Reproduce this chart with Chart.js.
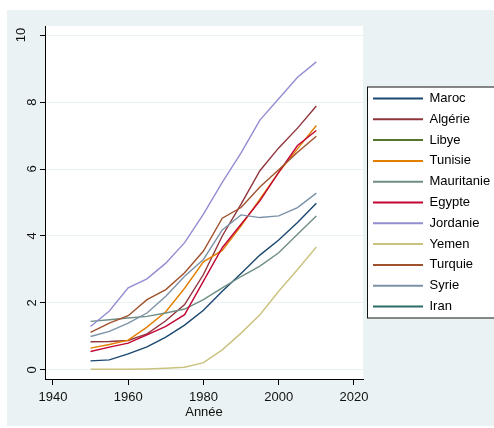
<!DOCTYPE html>
<html lang="fr">
<head>
<meta charset="UTF-8">
<title>Année</title>
<script src="https://cdn.jsdelivr.net/npm/chart.js"></script>
<style>
  html, body { margin: 0; padding: 0; background: #fff; }
  #wrap { width: 494px; height: 428px; }
</style>
</head>
<body>
<div id="wrap"><canvas id="chart"></canvas></div>
<script>
const years = [1950, 1955, 1960, 1965, 1970, 1975, 1980, 1985, 1990, 1995, 2000, 2005, 2010];

const maroc      = [0.27, 0.30, 0.48, 0.69, 0.98, 1.34, 1.78, 2.35, 2.88, 3.43, 3.88, 4.40, 4.98];
const algerie    = [0.84, 0.85, 0.88, 1.08, 1.47, 1.95, 2.85, 4.00, 4.95, 5.95, 6.63, 7.22, 7.88];
const libye      = [];
const tunisie    = [0.65, 0.76, 0.89, 1.28, 1.74, 2.44, 3.23, 3.57, 4.30, 5.10, 5.90, 6.60, 7.30];
const mauritanie = [1.45, 1.50, 1.55, 1.60, 1.70, 1.82, 2.10, 2.45, 2.79, 3.10, 3.50, 4.05, 4.60];
const egypte     = [0.55, 0.68, 0.80, 1.05, 1.30, 1.65, 2.65, 3.65, 4.35, 5.05, 5.90, 6.70, 7.15];
const jordanie   = [1.30, 1.76, 2.45, 2.72, 3.19, 3.80, 4.65, 5.60, 6.48, 7.46, 8.10, 8.74, 9.20];
const yemen      = [0.02, 0.02, 0.02, 0.03, 0.05, 0.08, 0.22, 0.60, 1.10, 1.65, 2.35, 3.00, 3.67];
const turquie    = [1.12, 1.40, 1.62, 2.10, 2.40, 2.90, 3.55, 4.53, 4.85, 5.46, 5.98, 6.50, 6.98];
const syrie      = [1.00, 1.15, 1.40, 1.70, 2.20, 2.80, 3.30, 4.18, 4.63, 4.55, 4.60, 4.85, 5.28];
const iran       = [];

const countries = ['Maroc', 'Algérie', 'Libye', 'Tunisie', 'Mauritanie', 'Egypte', 'Jordanie', 'Yemen', 'Turquie', 'Syrie', 'Iran'];
const series = [maroc, algerie, libye, tunisie, mauritanie, egypte, jordanie, yemen, turquie, syrie, iran];
const colors = ['#1a476f', '#90353b', '#55752f', '#e37e00', '#6e8e84', '#c10534', '#938dd2', '#cac27e', '#a0522d', '#7b92a8', '#2d6d66'];

const xTicks = [1940, 1960, 1980, 2000, 2020];
const yTicks = [0, 2, 4, 6, 8, 10];

const FONT = '"Liberation Sans", Arial, sans-serif';

// fond gris-bleu, zone du graphique et cadre de la légende
const frame = {
    id: 'frame',
    afterLayout(chart) {
        // la légende commence juste à droite de la zone du graphique et va jusqu'au bord
        const lg = chart.legend;
        lg.left = chart.chartArea.right + 2.2;
        lg.right = chart.width;
        lg.width = lg.right - lg.left;
    },
    beforeDraw(chart) {
        const { ctx, chartArea: a, width, height } = chart;
        const mid = (a.top + a.bottom) / 2;
        ctx.save();
        ctx.fillStyle = '#ffffff';
        ctx.fillRect(0, 0, width, height);
        ctx.fillStyle = '#eaf2f3';
        ctx.fillRect(7, 10, width - 7, height - 12);
        ctx.fillStyle = '#ffffff';
        ctx.fillRect(a.left, a.top, a.right - a.left, a.bottom - a.top);
        ctx.fillRect(a.right + 4, mid - 116, width, 232);
        ctx.restore();
    },
    afterDraw(chart) {
        const { ctx, chartArea: a, width } = chart;
        const mid = (a.top + a.bottom) / 2;
        ctx.save();
        ctx.strokeStyle = '#111';
        ctx.lineWidth = 1;
        ctx.strokeRect(Math.round(a.right + 4) + 0.5, mid - 115.5, width, 231);
        ctx.restore();
    }
};

new Chart(document.getElementById('chart'), {
    type: 'line',
    data: {
        labels: years,
        datasets: countries.map((name, i) => ({
            label: name,
            data: series[i],
            borderColor: colors[i],
            backgroundColor: colors[i],
            borderWidth: 1.4,
            pointRadius: 0,
            tension: 0,
            fill: false,
            order: -i
        }))
    },
    options: {
        responsive: true,
        maintainAspectRatio: false,
        animation: false,
        layout: { padding: { left: 7, right: 21, top: 26, bottom: 4 } },
        plugins: {
            tooltip: { enabled: false },
            legend: {
                position: 'right',
                fullSize: false,
                align: 'center',
                maxWidth: 110,
                labels: {
                    boxWidth: 50,
                    boxHeight: 2,
                    padding: 7.8,
                    color: '#111',
                    font: { family: FONT, size: 13 },
                    generateLabels: chart => chart.data.datasets.map((ds, i) => ({
                        text: ds.label,
                        fillStyle: ds.borderColor,
                        strokeStyle: ds.borderColor,
                        lineWidth: 0,
                        hidden: false,
                        datasetIndex: i
                    }))
                }
            }
        },
        scales: {
            x: {
                type: 'linear',
                min: 1937.9,
                max: 2022.4,
                afterBuildTicks: s => { s.ticks = xTicks.map(v => ({ value: v })); },
                afterFit: s => { s.height = 45; },
                ticks: {
                    color: '#111',
                    font: { family: FONT, size: 13 },
                    padding: 5,
                    maxRotation: 0,
                    callback: v => String(v)
                },
                grid: { drawOnChartArea: false, tickLength: 6, tickColor: '#000' },
                border: { color: '#000', width: 1 },
                title: {
                    display: true,
                    text: 'Année',
                    color: '#111',
                    font: { family: FONT, size: 13 },
                    padding: { top: 0, bottom: 4 }
                }
            },
            y: {
                min: -0.27,
                max: 10.27,
                afterBuildTicks: s => { s.ticks = yTicks.map(v => ({ value: v })); },
                afterFit: s => { s.width = 38; },
                ticks: {
                    color: '#111',
                    font: { family: FONT, size: 13, lineHeight: 1.7 },
                    minRotation: 90,
                    maxRotation: 90,
                    crossAlign: 'center',
                    padding: 0,
                    callback: v => { const s = String(v); return s.length > 1 ? [s, ''] : s; }
                },
                grid: { color: '#eaf2f3', lineWidth: 1, tickLength: 5, tickColor: '#000' },
                border: { color: '#000', width: 1 }
            }
        }
    },
    plugins: [frame]
});
</script>
</body>
</html>
